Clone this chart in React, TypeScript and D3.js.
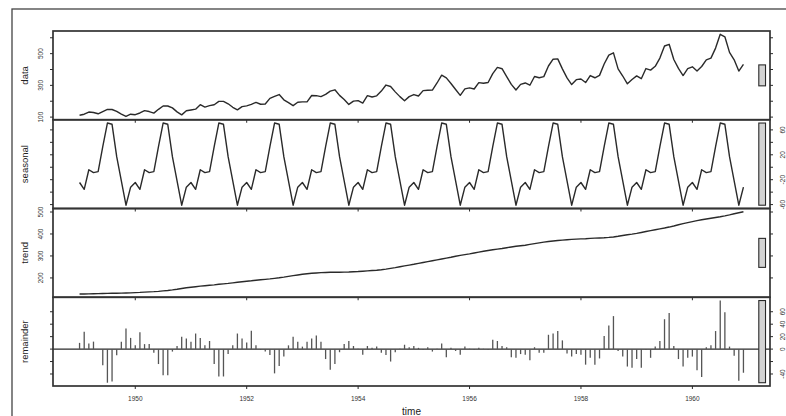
import React from "react";
import * as d3 from "d3";

// monthly series, Jan 1949 .. Dec 1960
const startYear = 1949;

const passengers = [
  112, 118, 132, 129, 121, 135, 148, 148, 136, 119, 104, 118,
  115, 126, 141, 135, 125, 149, 170, 170, 158, 133, 114, 140,
  145, 150, 178, 163, 172, 178, 199, 199, 184, 162, 146, 166,
  171, 180, 193, 181, 183, 218, 230, 242, 209, 191, 172, 194,
  196, 196, 236, 235, 229, 243, 264, 272, 237, 211, 180, 201,
  204, 188, 235, 227, 234, 264, 302, 293, 259, 229, 203, 229,
  242, 233, 267, 269, 270, 315, 364, 347, 312, 274, 237, 278,
  284, 277, 317, 313, 318, 374, 413, 405, 355, 306, 271, 306,
  315, 301, 356, 348, 355, 422, 465, 467, 404, 347, 305, 336,
  340, 318, 362, 348, 363, 435, 491, 505, 404, 359, 310, 337,
  360, 342, 406, 396, 420, 472, 548, 559, 463, 407, 362, 405,
  417, 391, 419, 461, 472, 535, 622, 606, 508, 461, 390, 432,
];

const seasonal = [
  -24.5, -35.5, -4, -8.7, -7, 33, 71, 69, 17, -22, -61, -32,
  -24.5, -35.5, -4, -8.7, -7, 33, 71, 69, 17, -22, -61, -32,
  -24.5, -35.5, -4, -8.7, -7, 33, 71, 69, 17, -22, -61, -32,
  -24.5, -35.5, -4, -8.7, -7, 33, 71, 69, 17, -22, -61, -32,
  -24.5, -35.5, -4, -8.7, -7, 33, 71, 69, 17, -22, -61, -32,
  -24.5, -35.5, -4, -8.7, -7, 33, 71, 69, 17, -22, -61, -32,
  -24.5, -35.5, -4, -8.7, -7, 33, 71, 69, 17, -22, -61, -32,
  -24.5, -35.5, -4, -8.7, -7, 33, 71, 69, 17, -22, -61, -32,
  -24.5, -35.5, -4, -8.7, -7, 33, 71, 69, 17, -22, -61, -32,
  -24.5, -35.5, -4, -8.7, -7, 33, 71, 69, 17, -22, -61, -32,
  -24.5, -35.5, -4, -8.7, -7, 33, 71, 69, 17, -22, -61, -32,
  -24.5, -35.5, -4, -8.7, -7, 33, 71, 69, 17, -22, -61, -32,
];

const trend = [
  127, 127, 127.5, 128, 128.5, 129, 129.5, 130, 130.5, 131, 131.5, 132,
  133, 134, 135.5, 136.5, 137.5, 139, 141, 143, 145.5, 148.5, 152, 155,
  157.5, 160, 162.5, 164.5, 166.5, 168.5, 171, 173, 175, 177.5, 180, 182.5,
  185, 187, 189.5, 191.5, 193.5, 195.5, 198, 200.5, 203.5, 207, 210.5, 213.5,
  216.5, 219, 221, 222.5, 224, 225, 225.5, 226, 226, 226.5, 227, 228,
  229, 230.5, 232, 233.5, 235, 237, 240, 243.5, 247, 251, 255, 258.5,
  262, 266, 270, 274, 278, 282, 286, 290, 294, 298.5, 302.5, 306,
  309.5, 313.5, 317.5, 321.5, 325, 328, 331, 334, 337.5, 341, 344, 346.5,
  349, 352.5, 356, 359.5, 363, 365.5, 368, 370, 372, 374, 375.5, 376.5,
  377.5, 378.5, 380, 381, 382, 383, 384.5, 386.5, 389.5, 393, 396.5, 399.5,
  403, 407, 411, 415, 419, 423, 427, 431.5, 436.5, 442, 447, 451.5,
  456, 460.5, 464.5, 468, 471.5, 475, 478.5, 482.5, 487, 492, 496.5, 501,
];

const remainder = [
  10, 28, 9, 12, 0, -26, -54, -52, -10, 12, 33, 18,
  6, 27, 8, 8, -6, -24, -42, -42, -4, 5, 20, 17,
  12, 25, 18, 6, 13, -24, -44, -44, -8, 6, 25, 17,
  10.5, 29.5, 6, -1.5, -4, -9.5, -39, -27, -12, 6, 20, 12,
  4, 12, 17, 22, 12, -16, -33, -24, -5, 8, 13, 5,
  0.5, -9, 5, 2, 4, -6, -9.5, -20, -5, 0.5, 7, 3,
  5, 2, -1.5, 3, -4, 0.5, 9, -13, 2, -3, -9, 4,
  0.5, -1.5, 2, 0.5, -1.5, 15, 13, 5, 3, -13, -14, -8,
  -9, -18, 3, -6, -6, 23, 25, 29, 14, -7, -12, -8,
  -9, -25, -14, -25, -15, 21, 38, 53, -3, -12, -28, -30,
  -16, -30, -1, -14, 4, 13, 48, 58, 5, -16, -28, -14,
  -12, -34, -45, 3, 6, 29, 78, 59, 4, -10.5, -51, -38,
];

const panelNames = ["data", "seasonal", "trend", "remainder"];
const yearTicks = [1950, 1952, 1954, 1956, 1958, 1960];

const dataTicks = [100, 200, 300, 400, 500, 600];
const dataLabels = [100, 300, 500];
const seasonalTicks = [-60, -40, -20, 0, 20, 40, 60];
const seasonalLabels = [-60, -20, 20, 60];
const trendTicks = [200, 300, 400, 500];
const trendLabels = [200, 300, 400, 500];
const remainderTicks = [-40, -20, 0, 20, 40, 60];
const remainderLabels = [-40, 0, 20, 40, 60];

const FONT = "'Liberation Sans', Arial, Helvetica, sans-serif";

const App = () => {
  const width = 786;
  const height = 416;
  const left = 53;
  const right = 770;
  const top = 31;
  const bottom = 386;
  const ph = (bottom - top) / 4;
  const ink = "#2a2a2a";

  const times = passengers.map((_, i) => startYear + i / 12);
  const [t0, t1] = d3.extent(times) as [number, number];
  const xpad = 0.04 * (t1 - t0);
  const ux1 = t0 - xpad;
  const ux2 = t1 + xpad;
  const x = d3.scaleLinear().domain([ux1, ux2]).range([left, right]);

  const series = [passengers, seasonal, trend, remainder];
  const ticks = [dataTicks, seasonalTicks, trendTicks, remainderTicks];
  const labels = [dataLabels, seasonalLabels, trendLabels, remainderLabels];
  const ranges = series.map((s) => d3.extent(s) as [number, number]);
  const mx = d3.min(ranges, (r) => r[1] - r[0]) as number;
  const dx = (ux2 - ux1) / 64;

  return (
    <svg
      width={width}
      height={height}
      style={{ position: "absolute", left: 0, top: 0, background: "#fff" }}
      fontFamily={FONT}
    >
      <rect x={12} y={9} width={800} height={430} fill="none" stroke="#444" strokeWidth={1.3} />

      {series.map((s, i) => {
        const [lo, hi] = ranges[i];
        const pad = 0.04 * (hi - lo);
        const y0 = top + i * ph;
        const y1 = top + (i + 1) * ph;
        const y = d3.scaleLinear().domain([lo - pad, hi + pad]).range([y1, y0]);
        const labelRight = i % 2 === 1;
        const mid = (lo + hi) / 2;
        const line = d3
          .line<number>()
          .x((_, j) => x(times[j]))
          .y((d) => y(d));
        return (
          <g key={panelNames[i]}>
            {i < 3 ? (
              <path d={line(s) || ""} fill="none" stroke={ink} strokeWidth={1.4} strokeLinejoin="round" />
            ) : (
              <g>
                <line x1={left} x2={right} y1={y(0)} y2={y(0)} stroke={ink} strokeWidth={1.3} />
                {s.map((v, j) => (
                  <line
                    key={j}
                    x1={x(times[j])}
                    x2={x(times[j])}
                    y1={y(0)}
                    y2={y(v)}
                    stroke="#555"
                    strokeWidth={1.3}
                  />
                ))}
              </g>
            )}

            {/* range bar */}
            <rect
              x={x(ux2 - dx)}
              width={x(ux2 - 0.4 * dx) - x(ux2 - dx)}
              y={y(mid + mx / 2)}
              height={y(mid - mx / 2) - y(mid + mx / 2)}
              fill="#d3d3d3"
              stroke={ink}
              strokeWidth={1.1}
            />

            <rect x={left} y={y0} width={right - left} height={ph} fill="none" stroke="#333" strokeWidth={1.7} />

            {ticks[i].map((t) => (
              <g key={t}>
                <line x1={left - 3} x2={left} y1={y(t)} y2={y(t)} stroke={ink} strokeWidth={1} />
                <line x1={right} x2={right + 3} y1={y(t)} y2={y(t)} stroke={ink} strokeWidth={1} />
              </g>
            ))}
            {labels[i].map((t) => (
              <text
                key={t}
                transform={`translate(${labelRight ? 782 : 40},${y(t)}) rotate(-90)`}
                textAnchor="middle"
                dominantBaseline="central"
                fontSize={6.5}
                fill="#333"
              >
                {t}
              </text>
            ))}

            {yearTicks.map((yr) => (
              <line key={yr} x1={x(yr)} x2={x(yr)} y1={y1} y2={y1 + 3} stroke={ink} strokeWidth={1} />
            ))}

            <text
              transform={`translate(24,${(y0 + y1) / 2}) rotate(-90)`}
              textAnchor="middle"
              dominantBaseline="central"
              fontSize={9.5}
              fill="#222"
            >
              {panelNames[i]}
            </text>
          </g>
        );
      })}

      {yearTicks.map((yr) => (
        <text key={yr} x={x(yr)} y={398} textAnchor="middle" dominantBaseline="central" fontSize={6.5} fill="#333">
          {yr}
        </text>
      ))}
      <text x={(left + right) / 2} y={411} textAnchor="middle" dominantBaseline="central" fontSize={10} fill="#222">
        time
      </text>
    </svg>
  );
};

export default App;
